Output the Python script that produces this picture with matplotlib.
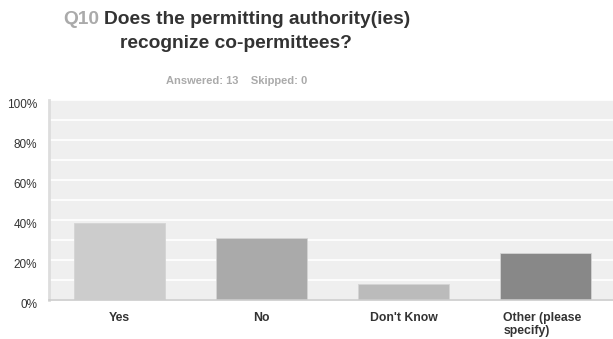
import matplotlib.pyplot as plt
from matplotlib.ticker import MultipleLocator
from matplotlib.transforms import ScaledTranslation

plt.rcParams['font.family'] = ['Liberation Sans', 'DejaVu Sans']

# survey answers: 13 answered, 0 skipped
choices = ['Yes', 'No', "Don't Know", 'Other (please\nspecify)']
counts = [5, 4, 1, 3]
answered = 13
skipped = 0
percents = [100.0 * c / answered for c in counts]
bar_colors = ['#cccccc', '#aaaaaa', '#bbbbbb', '#888888']

W, H = 613, 339
fig = plt.figure(figsize=(W / 100, H / 100), dpi=100)

# plot area runs a little past the right edge of the image
ax = fig.add_axes([48.5 / W, 39.5 / H, 568 / W, 200 / H])
ax.set_facecolor('#efefef')
x = range(len(choices))
ax.bar(x, percents, width=0.64, color=bar_colors, edgecolor='#d4d4d4',
       linewidth=0.6, zorder=3)
ax.set_xlim(-0.5, len(choices) - 0.5)
ax.set_ylim(0, 100)

ax.yaxis.set_minor_locator(MultipleLocator(10))
ax.set_yticks(range(0, 101, 20))
ax.set_yticklabels(['%d%%' % v for v in range(0, 101, 20)])
ax.grid(axis='y', which='both', color='white', linewidth=1.2, zorder=1)
ax.tick_params(axis='y', which='both', length=0, pad=8, labelsize=8.5,
               labelcolor='#333333')
# y labels sit a few pixels under their gridlines
shift = ScaledTranslation(0, -4 / 100, fig.dpi_scale_trans)
for lbl in ax.get_yticklabels():
    lbl.set_transform(lbl.get_transform() + shift)

ax.tick_params(axis='x', length=0, pad=9)
ax.set_xticks(list(x))
ax.set_xticklabels(choices, fontsize=8.8, fontweight='bold', color='#333333',
                   va='top', multialignment='left', linespacing=1.1)
# the two-line label hangs a bit to the left of its bar centre
other = ax.get_xticklabels()[-1]
other.set_transform(other.get_transform() +
                    ScaledTranslation(-3 / 100, 0, fig.dpi_scale_trans))

for side in ['top', 'right']:
    ax.spines[side].set_visible(False)
ax.spines['left'].set_color('#dddddd')
ax.spines['left'].set_linewidth(2)
ax.spines['bottom'].set_color('#cccccc')
ax.spines['bottom'].set_linewidth(1.2)
ax.spines['bottom'].set_zorder(4)

# question title, number in grey
fig.text(63 / W, 1 - 20 / H, 'Q10', fontsize=13.8, fontweight='bold',
         color='#aaaaaa', ha='left', va='center')
fig.text(104 / W, 1 - 20 / H, 'Does the permitting authority(ies)', fontsize=13.8,
         fontweight='bold', color='#333333', ha='left', va='center')
fig.text(236 / W, 1 - 43 / H, 'recognize co-permittees?', fontsize=13.8,
         fontweight='bold', color='#333333', ha='center', va='center')
fig.text(237 / W, 1 - 81 / H,
         'Answered: %d    Skipped: %d' % (answered, skipped), fontsize=8,
         fontweight='bold', color='#aaaaaa', ha='center', va='center')

fig.savefig('out.png', dpi=100, facecolor='white')
